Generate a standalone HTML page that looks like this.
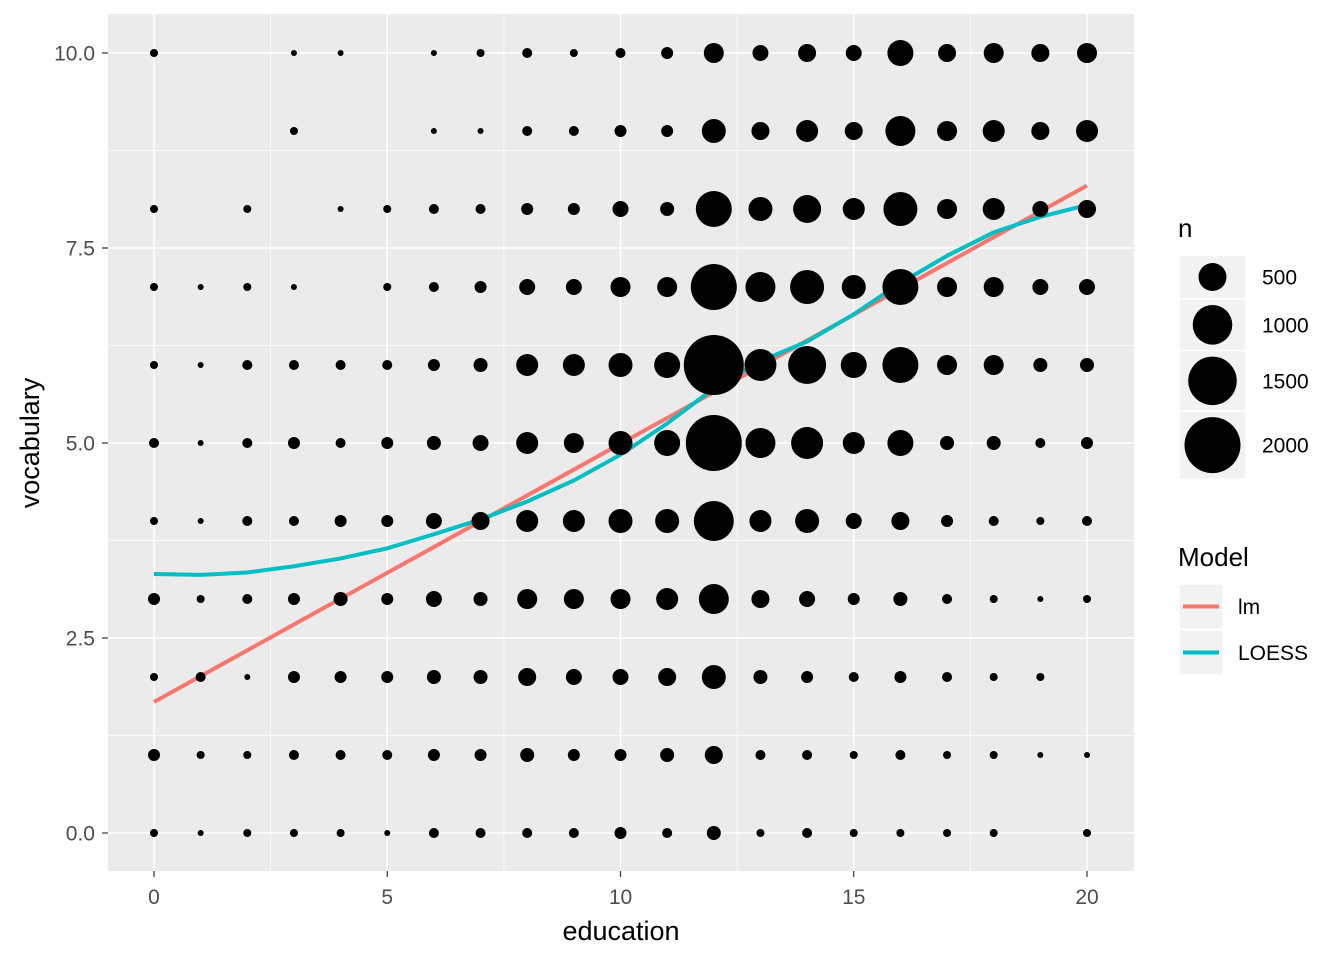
<!DOCTYPE html>
<html><head><meta charset="utf-8"><style>
body{margin:0;background:#fff;}
svg text{font-family:"Liberation Sans",Arial,sans-serif;}
</style></head><body>
<svg id="chart" width="1344" height="960">
<rect x="108" y="14" width="1026" height="857" fill="#EBEBEB"/>
<g id="grid"></g><g id="lines"></g><g id="dots"></g><g id="axes"></g><g id="legend"></g>
</svg>
<script>
const education=[0,1,2,3,4,5,6,7,8,9,10,11,12,13,14,15,16,17,18,19,20];
const vocabLevels=[0,1,2,3,4,5,6,7,8,9,10];
// counts n[vocab][education]
const counts=[
[41,23,41,41,41,23,64,64,64,64,92,64,125,41,64,41,41,41,41,0,41],
[92,41,41,64,64,64,92,92,125,92,92,125,207,64,64,41,64,41,41,23,23],
[41,64,23,92,92,92,125,125,207,163,163,207,367,125,92,64,92,64,41,41,0],
[92,41,64,92,125,92,163,125,255,255,255,309,574,207,163,92,125,64,41,23,41],
[41,23,64,64,92,92,163,207,309,309,367,367,1020,309,367,163,207,92,64,41,64],
[64,23,64,92,64,92,125,163,309,255,367,431,2000,574,653,309,431,125,125,64,92],
[41,23,64,64,64,64,92,125,309,309,367,431,2295,653,921,431,826,255,255,125,125],
[41,23,41,23,0,41,64,92,163,163,255,255,1349,574,737,367,826,255,255,163,163],
[41,0,41,0,23,41,64,64,92,92,163,125,826,367,500,309,737,255,309,163,207],
[0,0,0,41,0,0,23,23,64,64,92,92,367,207,309,207,574,255,309,207,309],
[41,0,0,23,23,0,23,41,64,41,64,92,255,163,207,163,431,207,255,207,255]];
const lmEdu=[0,20], lmVals=[1.68,8.3];
const loessVals=[3.32,3.31,3.34,3.42,3.52,3.65,3.83,4.02,4.25,4.52,4.85,5.25,5.7,6.05,6.3,6.65,7.05,7.4,7.7,7.9,8.05];
const xTicks=[0,5,10,15,20], yTicks=[0,2.5,5,7.5,10];
const yTickLabels=["0.0","2.5","5.0","7.5","10.0"];
const legendN=[500,1000,1500,2000];

const X=v=>154+v*46.65, Y=v=>833-v*78, R=n=>0.626*Math.sqrt(n);
const NS="http://www.w3.org/2000/svg";
function mk(p,t,a){const e=document.createElementNS(NS,t);for(const k in a)e.setAttribute(k,a[k]);p.appendChild(e);return e;}
const grid=document.getElementById('grid');
[2.5,7.5,12.5,17.5].forEach(v=>{const l=mk(grid,'line',{x1:X(v),x2:X(v),y1:14,y2:871,stroke:'#fff','stroke-width':0.7});
});
[1.25,3.75,6.25,8.75].forEach(v=>{const l=mk(grid,'line',{x1:108,x2:1134,y1:Y(v),y2:Y(v),stroke:'#fff','stroke-width':0.7});
});
xTicks.forEach(v=>{const l=mk(grid,'line',{x1:X(v),x2:X(v),y1:14,y2:871,stroke:'#fff','stroke-width':1.4});
});
yTicks.forEach(v=>{const l=mk(grid,'line',{x1:108,x2:1134,y1:Y(v),y2:Y(v),stroke:'#fff','stroke-width':1.4});
});
const dots=document.getElementById('dots');
counts.forEach((row,i)=>row.forEach((n,j)=>{if(!n)return;
const c=mk(dots,'circle',{cx:X(education[j]),cy:Y(vocabLevels[i]),r:R(n),fill:'#000'});
}));
const lines=document.getElementById('lines');
const lm=mk(lines,'polyline',{points:lmEdu.map((e,i)=>X(e)+','+Y(lmVals[i])).join(' '),fill:'none',stroke:'#F8766D','stroke-width':4});

const lo=mk(lines,'polyline',{points:education.map((e,i)=>X(e)+','+Y(loessVals[i])).join(' '),fill:'none',stroke:'#00BFC4','stroke-width':4});

const axes=document.getElementById('axes');
xTicks.forEach(v=>{const t=mk(axes,'line',{x1:X(v),x2:X(v),y1:871,y2:877,stroke:'#333','stroke-width':1.2});

const l=mk(axes,'text',{x:X(v),y:904,'text-anchor':'middle','font-size':21,fill:'#4D4D4D'});l.textContent=v;
});
yTicks.forEach((v,i)=>{const t=mk(axes,'line',{x1:102,x2:108,y1:Y(v),y2:Y(v),stroke:'#333','stroke-width':1.2});

const l=mk(axes,'text',{x:95,y:Y(v)+7.5,'text-anchor':'end','font-size':21,fill:'#4D4D4D'});l.textContent=yTickLabels[i];
});
const xt=mk(axes,'text',{x:621,y:940,'text-anchor':'middle','font-size':27,fill:'#000'});xt.textContent='education';

const yt=mk(axes,'text',{x:39,y:443,'text-anchor':'middle','font-size':27,fill:'#000',transform:'rotate(-90 39 443)'});yt.textContent='vocabulary';

const lg=document.getElementById('legend');
const nt=mk(lg,'text',{x:1178,y:237,'font-size':26});nt.textContent='n';

let ky=255;
legendN.forEach(n=>{const h=Math.max(44,2*R(n)+12);
const b=mk(lg,'rect',{x:1179,y:ky,width:67,height:h,fill:'#F2F2F2',stroke:'#fff','stroke-width':1.5});

const c=mk(lg,'circle',{cx:1212.5,cy:ky+h/2,r:R(n),fill:'#000'});

const t=mk(lg,'text',{x:1262,y:ky+h/2+7.5,'font-size':21});t.textContent=n;

ky+=h;});
const mt=mk(lg,'text',{x:1178,y:566,'font-size':26});mt.textContent='Model';

[['lm','#F8766D',584],['LOESS','#00BFC4',630]].forEach(([name,col,y])=>{
const b=mk(lg,'rect',{x:1179,y:y,width:44,height:45,fill:'#F2F2F2',stroke:'#fff','stroke-width':1.5});

const l=mk(lg,'line',{x1:1183,x2:1219,y1:y+22.5,y2:y+22.5,stroke:col,'stroke-width':4});

const t=mk(lg,'text',{x:1238,y:y+30,'font-size':21});t.textContent=name;
});
</script>
</body></html>
